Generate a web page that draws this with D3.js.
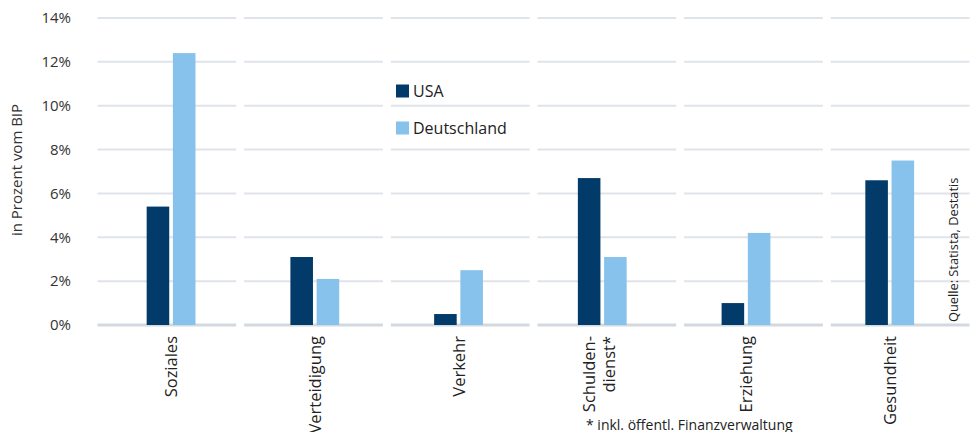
<!DOCTYPE html>
<html>
<head>
<meta charset="utf-8">
<script src="https://cdn.jsdelivr.net/npm/d3@7"></script>
<style>
  html, body { margin: 0; padding: 0; background: #fff; }
  svg { display: block; font-family: "Open Sans", "Noto Sans", sans-serif; }
</style>
</head>
<body>
<svg id="chart" width="971" height="432"></svg>
<script>
// Öffentliche Ausgaben nach Bereich, in Prozent vom BIP
const categories = ["Soziales", "Verteidigung", "Verkehr", "Schulden-\ndienst*", "Erziehung", "Gesundheit"];
const seriesNames = ["USA", "Deutschland"];
const usaValues = [5.4, 3.1, 0.5, 6.7, 1.0, 6.6];
const deValues = [12.4, 2.1, 2.5, 3.1, 4.2, 7.5];
const yTicks = [0, 2, 4, 6, 8, 10, 12, 14];
const colors = ["#023b6a", "#86c2eb"];

const rows = categories.map((c, i) => ({ cat: c, values: [usaValues[i], deValues[i]] }));

const svg = d3.select("#chart");

const y = d3.scaleLinear().domain([0, 14]).range([325, 18]);

// panels carrying the gridline segments
const xPanel = d3.scaleBand().domain(categories).range([97.5, 969.5]).paddingInner(0.054).paddingOuter(0);
// category positions of the bar groups
const xCat = d3.scaleBand().domain(categories).range([99.2, 961.6]).padding(0);
const xSeries = d3.scaleBand().domain(seriesNames).range([-24.4, 24.4]).paddingInner(0.14);

// gridline segments per category
const grid = svg.append("g");
categories.forEach(c => {
  grid.selectAll(null)
    .data(yTicks)
    .enter().append("line")
    .attr("x1", xPanel(c))
    .attr("x2", xPanel(c) + xPanel.bandwidth())
    .attr("y1", d => y(d))
    .attr("y2", d => y(d))
    .attr("stroke", d => d === 0 ? "#d3d9e0" : "#dfe4ea")
    .attr("stroke-width", d => d === 0 ? 3 : 2);
});

// y axis labels
const yAxis = d3.axisLeft(y).tickValues(yTicks).tickFormat(d => d + "%").tickSize(0).tickPadding(0);
const yg = svg.append("g").attr("transform", "translate(71,0)").call(yAxis);
yg.select(".domain").remove();
yg.selectAll("text").attr("font-size", 15).attr("fill", "#333").attr("font-family", "\"Open Sans\", sans-serif");

svg.append("text")
  .attr("transform", "translate(22,170) rotate(-90)")
  .attr("text-anchor", "middle")
  .attr("font-size", 15)
  .attr("fill", "#333")
  .text("in Prozent vom BIP");

// bars
const groups = svg.append("g").selectAll("g")
  .data(rows)
  .enter().append("g")
  .attr("transform", d => `translate(${xCat(d.cat) + xCat.bandwidth() / 2},0)`);

groups.selectAll("rect")
  .data(d => d.values.map((v, i) => ({ key: seriesNames[i], v: v, i: i })))
  .enter().append("rect")
  .attr("x", d => xSeries(d.key))
  .attr("width", xSeries.bandwidth())
  .attr("y", d => y(d.v))
  .attr("height", d => y(0) - y(d.v))
  .attr("fill", d => colors[d.i]);

// category labels, rotated
const catLabels = svg.append("g").selectAll("text")
  .data(categories)
  .enter().append("text")
  .attr("transform", d => `translate(${xCat(d) + xCat.bandwidth() / 2},336) rotate(-90)`)
  .attr("text-anchor", "end")
  .attr("font-size", 16.5)
  .attr("fill", "#222");

catLabels.each(function (d) {
  const lines = d.split("\n");
  const t = d3.select(this);
  const lh = 20;
  lines.forEach((ln, k) => {
    t.append("tspan")
      .attr("x", 0)
      .attr("y", (k - (lines.length - 1) / 2) * lh + 6 - (lines.length - 1) * 3)
      .text(ln);
  });
});

// legend
const legend = svg.append("g");
seriesNames.forEach((s, i) => {
  const ly = 91 + i * 37;
  legend.append("rect")
    .attr("x", 396).attr("y", ly - 6.5)
    .attr("width", 13).attr("height", 13)
    .attr("fill", colors[i]);
  legend.append("text")
    .attr("x", 413).attr("y", ly + 5.8)
    .attr("font-size", 16)
    .attr("fill", "#222")
    .text(s);
});

// source
svg.append("text")
  .attr("transform", "translate(958,322) rotate(-90)")
  .attr("text-anchor", "start")
  .attr("font-size", 12.8)
  .attr("fill", "#222")
  .text("Quelle: Statista, Destatis");

// footnote
svg.append("text")
  .attr("x", 586).attr("y", 429.5)
  .attr("font-size", 14)
  .attr("fill", "#222")
  .text("* inkl. öffentl. Finanzverwaltung");
</script>
</body>
</html>
